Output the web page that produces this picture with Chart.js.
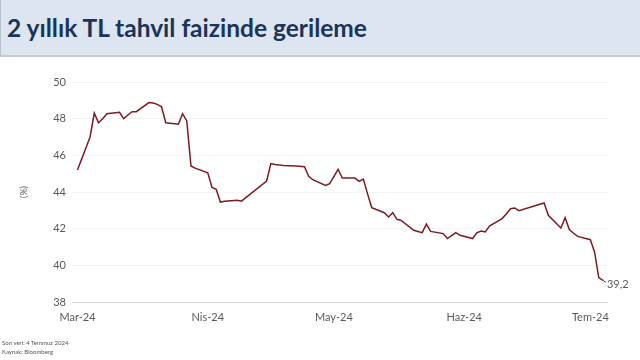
<!DOCTYPE html>
<html>
<head>
<meta charset="utf-8">
<script src="https://cdn.jsdelivr.net/npm/chart.js@4"></script>
<style>
  html, body { margin: 0; padding: 0; background: #fff; }
  body { width: 640px; height: 360px; position: relative; overflow: hidden; font-family: Lato, 'Open Sans', sans-serif; }
  #bar { position: absolute; left: 0; top: 0; width: 639px; height: 55px; background: #dce5f0; border-left: 1px solid #b7c2cf; border-bottom: 2px solid #c3cad2; }
  #title { position: absolute; left: 7px; top: 13px; font-size: 24.5px; font-weight: bold; color: #1b3458; white-space: nowrap; }
  #note { position: absolute; left: 2px; top: 338px; font-size: 6px; line-height: 9px; color: #555; }
  #chart { position: absolute; left: 0; top: 0; }
</style>
</head>
<body>
<div id="bar"></div>
<div id="title">2 yıllık TL tahvil faizinde gerileme</div>
<canvas id="chart" width="640" height="360"></canvas>
<div id="note">Son veri: 4 Temmuz 2024<br>Kaynak: Bloomberg</div>
<script>
const dates = [
  '2024-03-01', '2024-03-04', '2024-03-05', '2024-03-06', '2024-03-07', '2024-03-08',
  '2024-03-11', '2024-03-12', '2024-03-13', '2024-03-14', '2024-03-15',
  '2024-03-18', '2024-03-19', '2024-03-20', '2024-03-21', '2024-03-22',
  '2024-03-25', '2024-03-26', '2024-03-27', '2024-03-28', '2024-03-29',
  '2024-04-01', '2024-04-02', '2024-04-03', '2024-04-04', '2024-04-05',
  '2024-04-08', '2024-04-09', '2024-04-15', '2024-04-16', '2024-04-17', '2024-04-18', '2024-04-19',
  '2024-04-22', '2024-04-24', '2024-04-25', '2024-04-26', '2024-04-29', '2024-04-30',
  '2024-05-02', '2024-05-03', '2024-05-06', '2024-05-07', '2024-05-08', '2024-05-09', '2024-05-10',
  '2024-05-13', '2024-05-14', '2024-05-15', '2024-05-16', '2024-05-17',
  '2024-05-20', '2024-05-21', '2024-05-22', '2024-05-23', '2024-05-24',
  '2024-05-27', '2024-05-28', '2024-05-29', '2024-05-30', '2024-05-31',
  '2024-06-03', '2024-06-04', '2024-06-05', '2024-06-06', '2024-06-07',
  '2024-06-10', '2024-06-11', '2024-06-12', '2024-06-13', '2024-06-14',
  '2024-06-20', '2024-06-21', '2024-06-24', '2024-06-25', '2024-06-26', '2024-06-27', '2024-06-28',
  '2024-07-01', '2024-07-02', '2024-07-03', '2024-07-04'
];
const yields = [
  45.2, 47.0, 48.3, 47.78, 48.0, 48.27,
  48.35, 48.0, 48.2, 48.38, 48.38,
  48.88, 48.85, 48.78, 48.65, 47.78,
  47.7, 48.27, 47.88, 45.42, 45.3,
  45.05, 44.25, 44.15, 43.45, 43.5,
  43.55, 43.5, 44.6, 45.55, 45.5, 45.47, 45.45,
  45.42, 45.38, 44.86, 44.67, 44.36, 44.45,
  45.24, 44.76, 44.76, 44.58, 44.7, 43.9, 43.15,
  42.87, 42.64, 42.87, 42.51, 42.45,
  41.91, 41.85, 41.78, 42.25, 41.85,
  41.73, 41.46, 41.62, 41.78, 41.64,
  41.46, 41.77, 41.87, 41.82, 42.14,
  42.55, 42.8, 43.09, 43.13, 42.98,
  43.4, 42.73, 42.04, 42.6, 41.95, 41.75, 41.58,
  41.4, 40.73, 39.33, 39.18
];
const tickDates = ['2024-03-01', '2024-04-01', '2024-05-01', '2024-06-01', '2024-07-01'];
const tickLabels = ['Mar-24', 'Nis-24', 'May-24', 'Haz-24', 'Tem-24'];
const yTicks = [38, 40, 42, 44, 46, 48, 50];
const lastLabel = '39,2';

const origin = Date.UTC(2024, 2, 1);
const dayOf = (s) => {
  const [y, m, d] = s.split('-').map(Number);
  return Math.round((Date.UTC(y, m - 1, d) - origin) / 86400000);
};
const points = dates.map((d, i) => ({ x: dayOf(d), y: yields[i] }));
const tickDays = tickDates.map(dayOf);

const gray = '#595959';
const font = 'Lato, "Open Sans", sans-serif';

const endLabel = {
  id: 'endLabel',
  afterDatasetsDraw(chart) {
    const meta = chart.getDatasetMeta(0);
    const p = meta.data[meta.data.length - 1];
    const ctx = chart.ctx;
    ctx.save();
    ctx.strokeStyle = '#7a1c24';
    ctx.lineWidth = 1;
    ctx.beginPath();
    ctx.moveTo(p.x, p.y);
    ctx.lineTo(p.x + 3, p.y + 2);
    ctx.stroke();
    ctx.fillStyle = gray;
    ctx.font = '11px ' + font;
    ctx.textBaseline = 'middle';
    ctx.fillText(lastLabel, p.x + 4, p.y + 4);
    ctx.restore();
  }
};

new Chart(document.getElementById('chart'), {
  type: 'line',
  data: {
    datasets: [{
      data: points,
      borderColor: '#7a1c24',
      borderWidth: 1.5,
      pointRadius: 0,
      tension: 0,
      fill: false
    }]
  },
  options: {
    responsive: false,
    animation: false,
    layout: { padding: { left: 0, right: 32, top: 82, bottom: 0 } },
    plugins: { legend: { display: false }, tooltip: { enabled: false } },
    scales: {
      x: {
        type: 'linear',
        min: -1.3,
        max: 126.2,
        afterFit: (s) => { s.height = 58; },
        afterBuildTicks: (s) => { s.ticks = tickDays.map((v) => ({ value: v })); },
        grid: { display: false, drawTicks: false },
        border: { display: false },
        ticks: {
          padding: 9,
          maxRotation: 0,
          color: gray,
          font: { family: font, size: 11 },
          callback: (v) => tickLabels[tickDays.indexOf(v)] || ''
        }
      },
      y: {
        min: 38,
        max: 50,
        afterFit: (s) => { s.width = 72; },
        afterBuildTicks: (s) => { s.ticks = yTicks.map((v) => ({ value: v })); },
        grid: {
          drawTicks: false,
          color: (c) => (c.tick && c.tick.value === 38 ? '#d9d9d9' : '#f4f4f4')
        },
        border: { display: false },
        ticks: { padding: 6, color: gray, font: { family: font, size: 11 } },
        title: {
          display: true,
          text: '(%)',
          color: gray,
          font: { family: font, size: 9 },
          padding: { top: 19, bottom: 0 }
        }
      }
    }
  },
  plugins: [endLabel]
});
</script>
</body>
</html>
